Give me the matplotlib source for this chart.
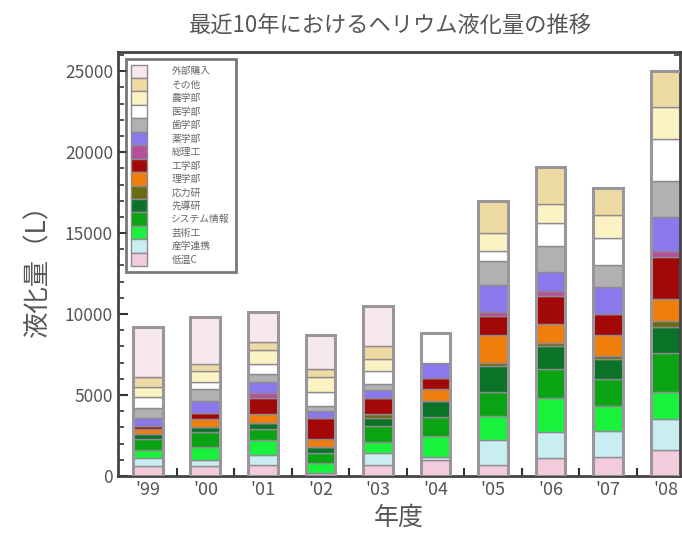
import matplotlib
matplotlib.use("Agg")
import matplotlib.pyplot as plt
import numpy as np
from matplotlib.ticker import MultipleLocator

plt.rcParams['font.family'] = ['Noto Sans CJK JP', 'DejaVu Sans']

years = ["'99", "'00", "'01", "'02", "'03", "'04", "'05", "'06", "'07", "'08"]

# series, bottom to top of each stack
pink    = [600, 600, 700, 200, 700, 1000, 700, 1100, 1200, 1600]
cyan    = [500, 400, 600, 0, 700, 150, 1500, 1600, 1600, 1900]
lime    = [500, 800, 900, 600, 700, 1300, 1500, 2100, 1500, 1700]
green   = [700, 900, 700, 600, 1000, 1200, 1500, 1800, 1700, 2400]
dkgreen = [300, 300, 400, 400, 500, 1000, 1600, 1400, 1200, 1600]
olive   = [0, 0, 0, 0, 200, 0, 200, 200, 200, 400]
orange  = [300, 500, 500, 500, 0, 700, 1700, 1200, 1300, 1300]
dkred   = [200, 400, 1000, 1300, 1000, 700, 1200, 1700, 1300, 2600]
magenta = [0, 0, 300, 0, 0, 0, 200, 300, 0, 400]
purple  = [500, 700, 700, 400, 500, 900, 1700, 1200, 1700, 2100]
grey    = [600, 800, 500, 300, 400, 0, 1500, 1600, 1300, 2200]
white   = [700, 400, 600, 900, 800, 1900, 600, 1400, 1700, 2600]
pyellow = [600, 700, 900, 900, 700, 0, 1100, 1200, 1400, 2000]
tan     = [600, 400, 500, 500, 800, 0, 2000, 2300, 1700, 2200]
ppink   = [3100, 2900, 1800, 2100, 2500, 0, 0, 0, 0, 0]

series = [pink, cyan, lime, green, dkgreen, olive, orange, dkred,
          magenta, purple, grey, white, pyellow, tan, ppink]
labels = ["低温C", "産学連携", "芸術工", "システム情報", "先導研", "応力研",
          "理学部", "工学部", "総理工", "薬学部", "歯学部", "医学部",
          "農学部", "その他", "外部購入"]
colors = ["#f2cbdc", "#c9eef2", "#19f23c", "#0aa314", "#0a7328", "#6b6a12",
          "#ef7f0a", "#a30808", "#b4509c", "#8a78ec", "#b3b0b3", "#ffffff",
          "#fbf3c4", "#eedba3", "#f7e8ef"]

fig = plt.figure(figsize=(6.82, 5.39), dpi=100)
ax = fig.add_axes([0.173, 0.117, 0.824, 0.787])

x = np.arange(len(years))
w = 0.52
bottom = np.zeros(len(years))
handles = []
for vals, lab, col in zip(series, labels, colors):
    b = ax.bar(x, vals, w, bottom=bottom, color=col, edgecolor="#8f8a8f",
               linewidth=1.0, label=lab, zorder=2)
    handles.append(b)
    bottom += np.array(vals)
ax.bar(x, bottom, w, fill=False, edgecolor="#9a959a", linewidth=2.2, zorder=3)

ax.set_xlim(-0.52, 9.25)
ax.set_ylim(0, 26200)
ax.set_xticks(x)
ax.set_xticklabels(years)
ax.set_xticks(x[:-1] + 0.5, minor=True)
ax.yaxis.set_major_locator(MultipleLocator(5000))
ax.yaxis.set_minor_locator(MultipleLocator(1000))
ax.tick_params(axis='x', which='major', length=0, labelsize=13, colors='#555555', pad=4)
ax.tick_params(axis='x', which='minor', direction='in', length=6, width=1.5, color='#333333')
ax.tick_params(axis='y', which='major', direction='in', length=7, width=1.5,
               labelsize=12.5, colors='#555555', right=True)
ax.tick_params(axis='y', which='minor', direction='in', length=4, width=1.2, right=True)
ax.tick_params(axis='y', which='both', color='#333333')
for s in ax.spines.values():
    s.set_linewidth(2)
    s.set_color('#444444')

ax.set_ylabel("液化量（L）", fontsize=19, color='#555555', labelpad=10)
ax.set_xlabel("年度", fontsize=18, color='#555555', labelpad=4)
fig.text(0.572, 0.952, "最近10年におけるヘリウム液化量の推移", ha='center', va='center',
         fontsize=16, color='#555555')

leg = ax.legend(handles[::-1], labels[::-1], loc='upper left', bbox_to_anchor=(0.005, 0.995),
                fontsize=7, labelspacing=0.0, handlelength=1.6, handleheight=1.75,
                handletextpad=2.5, borderpad=0.6, frameon=True, fancybox=False)
leg.get_frame().set_edgecolor('#555555')
leg.get_frame().set_linewidth(2)
for t in leg.get_texts():
    t.set_color('#666666')

fig.savefig("out.png", dpi=100)
